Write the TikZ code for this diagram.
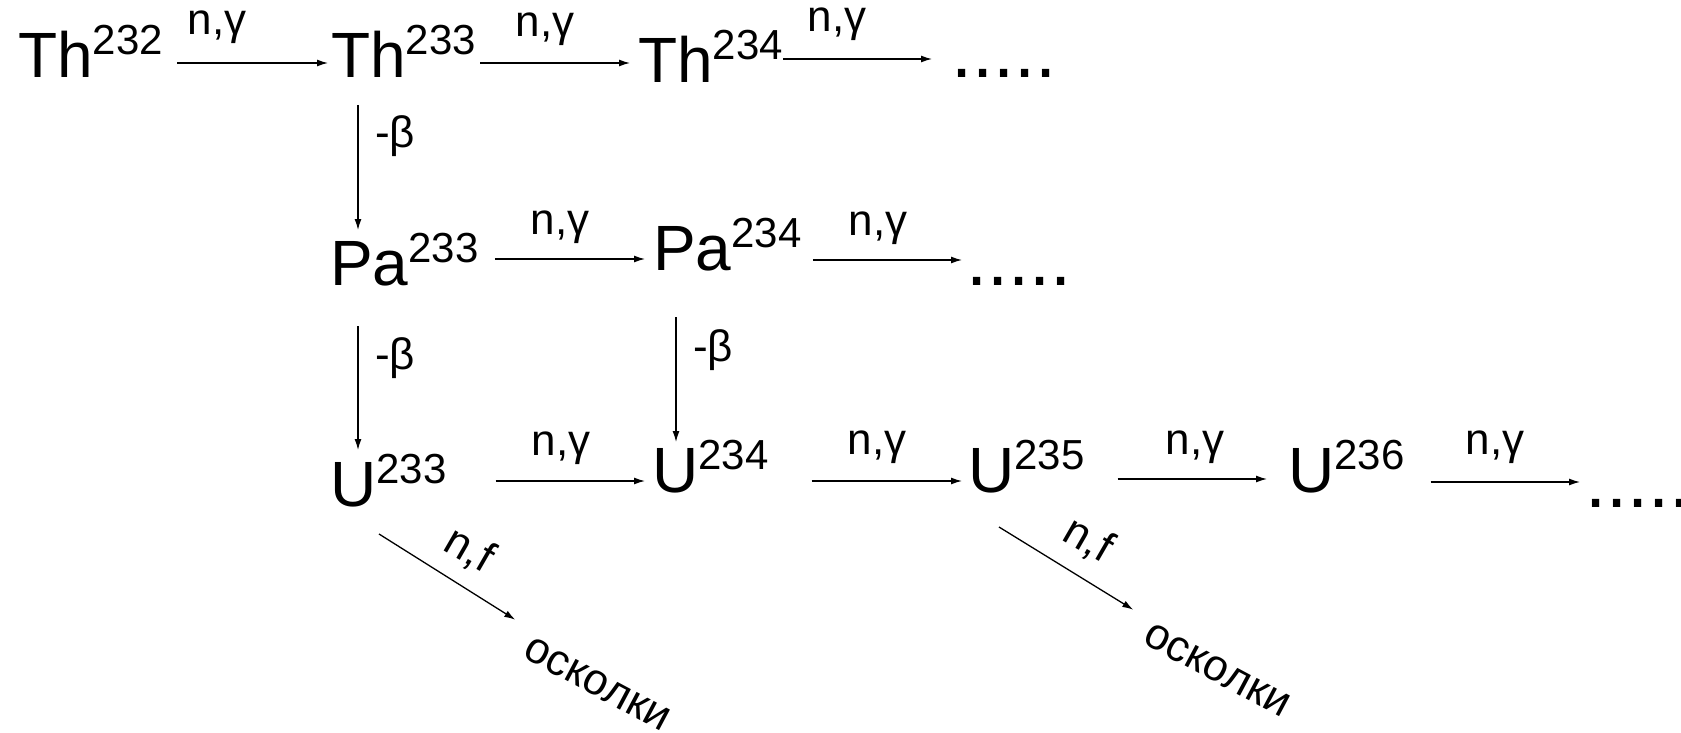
\documentclass[tikz,border=0pt]{standalone}
\usepackage{fontspec}
\setmainfont{Liberation Sans}
\usetikzlibrary{arrows.meta}
\newcommand\nuc[2]{{\fontsize{64}{64}\selectfont #1}\raisebox{23pt}{\fontsize{42}{42}\selectfont #2}}
\begin{document}
\begin{tikzpicture}[x=1pt,y=-1pt,
  nuclide/.style={inner sep=0pt, anchor=base west},
  lbl/.style={inner sep=0pt, font=\fontsize{44}{44}\selectfont},
  ellip/.style={inner sep=0pt, anchor=base west, font=\fontsize{76}{76}\selectfont},
  arr/.style={line width=1.3pt, -{Latex[length=11pt,width=7pt]}}]
\useasboundingbox (0,0) rectangle (1681,733);
% nuclides
\node[nuclide] (th232) at (18,78) {\nuc{Th}{232}};
\node[nuclide] (th233) at (331,78) {\nuc{Th}{233}};
\node[nuclide] (th234) at (638,83) {\nuc{Th}{234}};
\node[ellip] (dots1) at (951,78) {.....};
\node[nuclide] (pa233) at (330,285) {\nuc{Pa}{233}};
\node[nuclide] (pa234) at (653,270) {\nuc{Pa}{234}};
\node[ellip] (dots2) at (966,285) {.....};
\node[nuclide] (u233) at (330,506) {\nuc{U}{233}};
\node[nuclide] (u234) at (652,492) {\nuc{U}{234}};
\node[nuclide] (u235) at (968,492) {\nuc{U}{235}};
\node[nuclide] (u236) at (1288,492) {\nuc{U}{236}};
\node[ellip] (dots3) at (1585,507) {.....};
% labels
\node[lbl, anchor=base] (l1) at (217,35) {n,γ};
\node[lbl, anchor=base] (l2) at (545,37) {n,γ};
\node[lbl, anchor=base] (l3) at (837,32) {n,γ};
\node[lbl, anchor=base] (l4) at (560,234) {n,γ};
\node[lbl, anchor=base] (l5) at (878,235) {n,γ};
\node[lbl, anchor=base] (l6) at (561,455) {n,γ};
\node[lbl, anchor=base] (l7) at (877,454) {n,γ};
\node[lbl, anchor=base] (l8) at (1195,454) {n,γ};
\node[lbl, anchor=base] (l9) at (1495,454) {n,γ};
\node[lbl, anchor=base west] (b1) at (375,148) {-β};
\node[lbl, anchor=base west] (b2) at (375,369) {-β};
\node[lbl, anchor=base west] (b3) at (693,361) {-β};
\node[lbl, rotate=-30] (nf1) at (469,550) {n,f};
\node[lbl, rotate=-30] (nf2) at (1088,540) {n,f};
\node[lbl, rotate=-28] (os1) at (597,684) {осколки};
\node[lbl, rotate=-28] (os2) at (1217,670) {осколки};
% horizontal arrows
\draw[arr] ([shift={(14,-15)}]th232.base east) -- ([shift={(-3,-15)}]th233.base west);
\draw[arr] ([shift={(4,-15)}]th233.base east) -- ([shift={(-8,-20)}]th234.base west);
\draw[arr] ([shift={(0,-24)}]th234.base east) -- ([shift={(-19,-19)}]dots1.base west);
\draw[arr] ([shift={(16,-26)}]pa233.base east) -- ([shift={(-8,-11)}]pa234.base west);
\draw[arr] ([shift={(11,-10)}]pa234.base east) -- ([shift={(-4,-25)}]dots2.base west);
\draw[arr] ([shift={(49,-25)}]u233.base east) -- ([shift={(-7,-11)}]u234.base west);
\draw[arr] ([shift={(43,-11)}]u234.base east) -- ([shift={(-6,-11)}]u235.base west);
\draw[arr] ([shift={(33,-13)}]u235.base east) -- ([shift={(-21,-13)}]u236.base west);
\draw[arr] ([shift={(26,-10)}]u236.base east) -- ([shift={(-5,-25)}]dots3.base west);
% vertical arrows
\draw[arr] ([shift={(27,27)}]th233.base west) -- ([shift={(28,-55)}]pa233.base west);
\draw[arr] ([shift={(28,41)}]pa233.base west) -- ([shift={(28,-56)}]u233.base west);
\draw[arr] ([shift={(23,47)}]pa234.base west) -- ([shift={(24,-50)}]u234.base west);
% fission arrows
\draw[arr] ([shift={(49,28)}]u233.base west) -- ([shift={(-17,-16)}]os1.north west);
\draw[arr] ([shift={(31,35)}]u235.base west) -- ([shift={(-19,-12)}]os2.north west);
\end{tikzpicture}
\end{document}
